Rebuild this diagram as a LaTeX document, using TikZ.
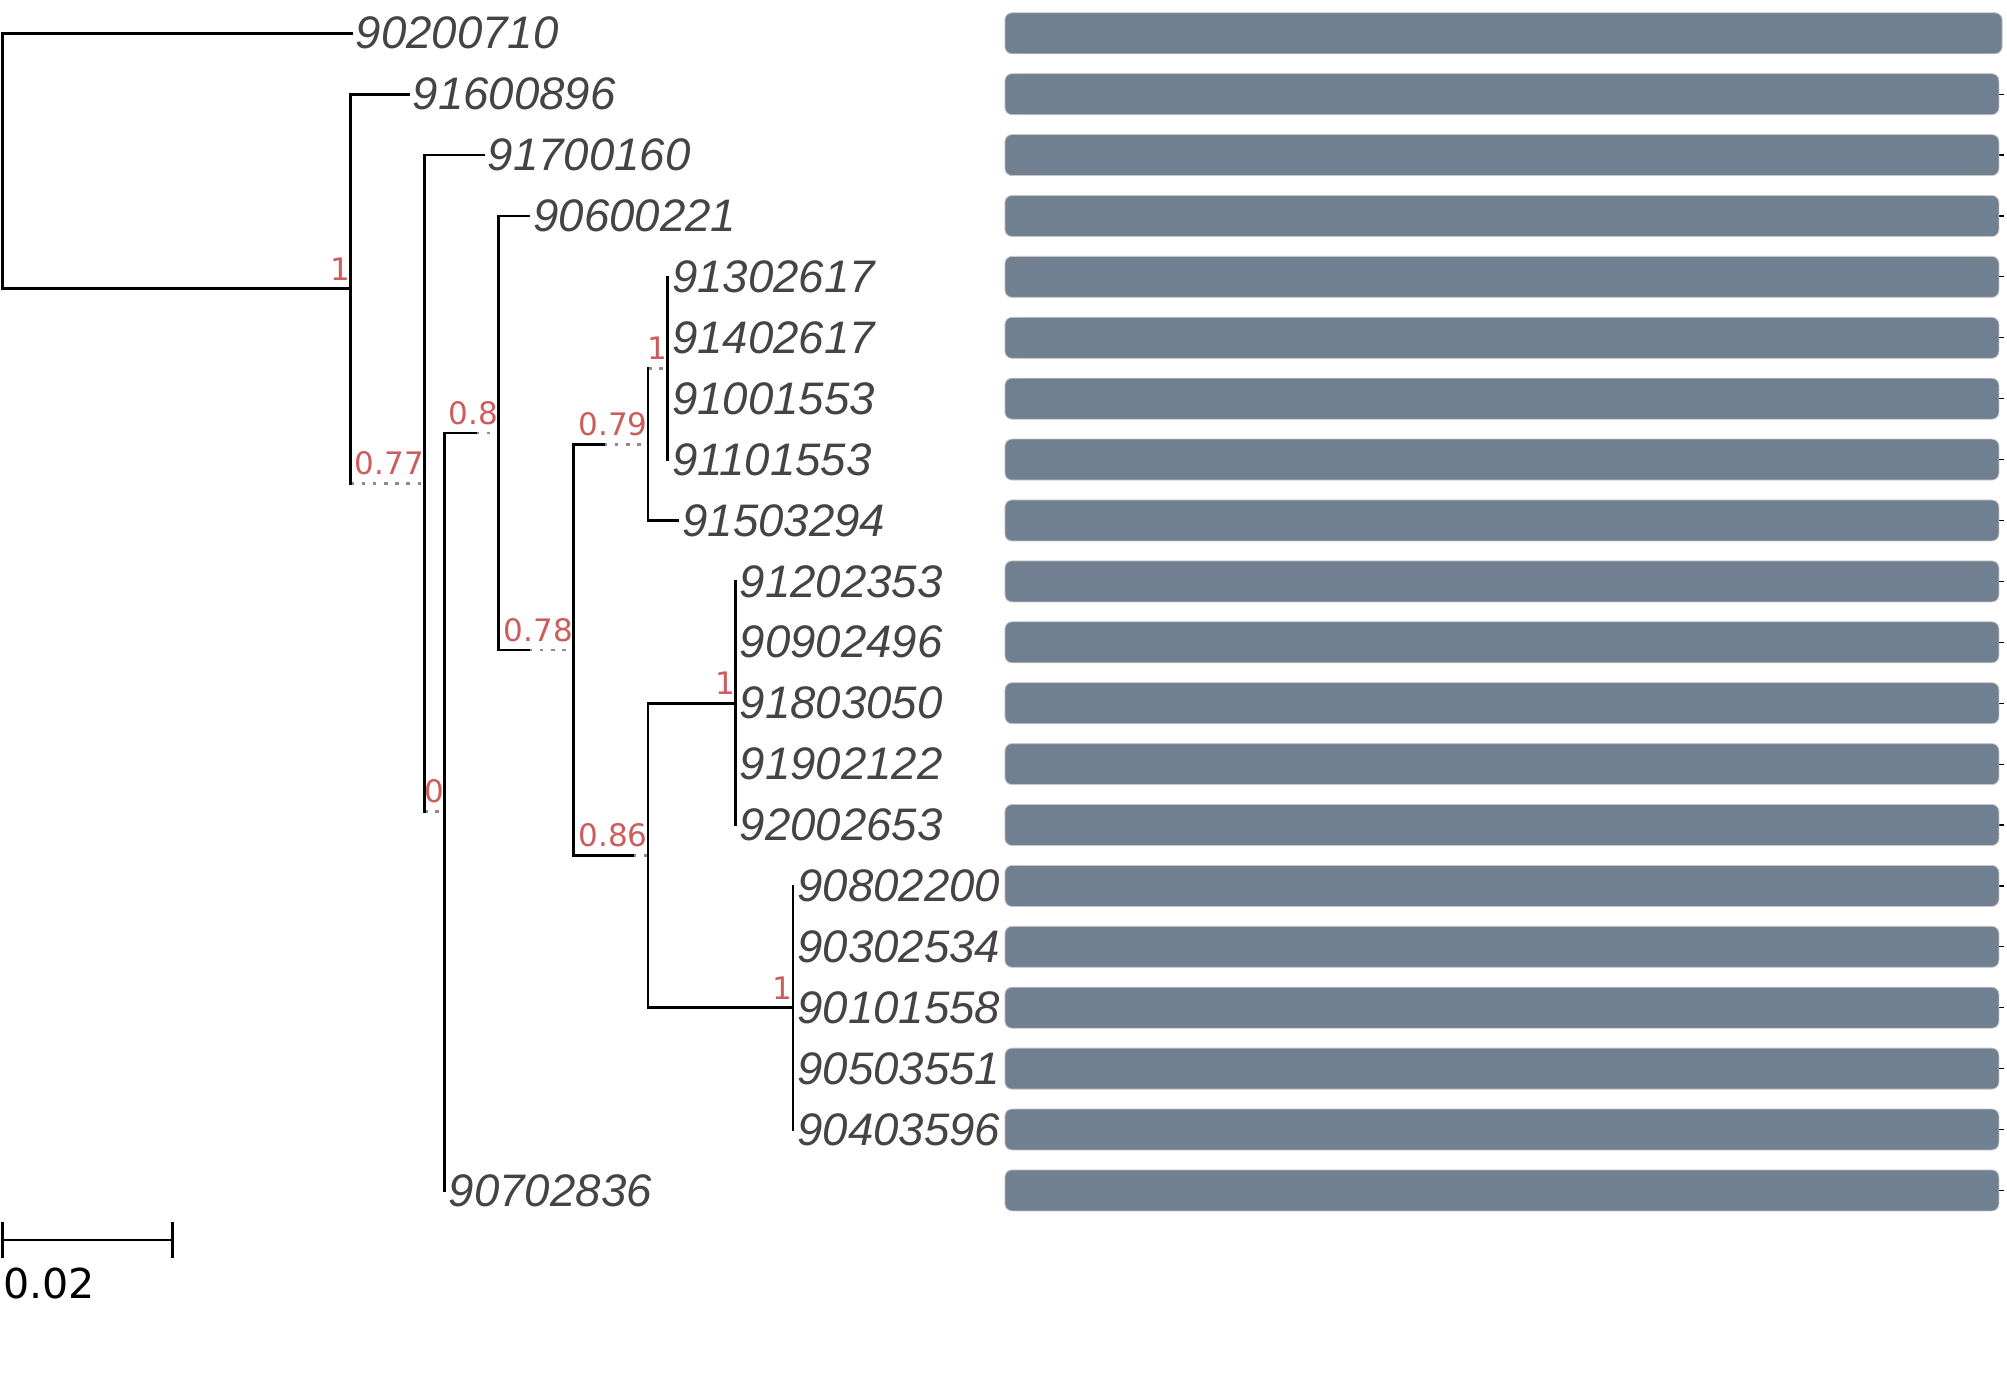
\documentclass[tikz,border=0pt]{standalone}
\usepackage{fontspec}
\newfontfamily\leaffont{Liberation Sans}
\newfontfamily\dvs{DejaVu Sans}
\definecolor{slate}{RGB}{112,128,144}
\definecolor{suppred}{RGB}{205,92,92}
\definecolor{leafgray}{RGB}{68,68,68}
\definecolor{dotgray}{RGB}{140,140,140}
\begin{document}
\begin{tikzpicture}[x=0.64pt,y=-0.64pt,
  branch/.style={line width=1.35pt, black, line cap=rect},
  dotbranch/.style={line width=1.35pt, dotgray, dash pattern=on 1.8pt off 3.8pt},
  leaf/.style={anchor=west, inner sep=0pt, xshift=2pt, text=leafgray, font=\leaffont\itshape\fontsize{22.8}{27}\selectfont},
  supp/.style={anchor=south east, inner sep=0pt, yshift=4pt, text=suppred, font=\dvs\fontsize{15.5}{18}\selectfont},
  bar/.style={fill=slate, draw=gray!45, line width=0.4pt, rounded corners=3.5pt, minimum width=497pt, minimum height=20.5pt, inner sep=0pt, anchor=west},
  tick/.style={line width=0.6pt, black}]
\useasboundingbox (0,0) rectangle (1568,1088);

% internal nodes
\coordinate (R) at (2.1,125.8);
\coordinate (A) at (273.8,225.6);
\coordinate (B) at (331.4,377.65);
\coordinate (C) at (347.3,634.13);
\coordinate (D) at (389.6,338.25);
\coordinate (E) at (447.8,507.75);
\coordinate (F) at (506.3,347.17);
\coordinate (G) at (521.6,287.69);
\coordinate (H) at (506.3,668.33);
\coordinate (I) at (574.5,549.38);
\coordinate (J) at (619.5,787.28);
% split points solid/dotted
\coordinate (Ds) at (371.5,338.25);
\coordinate (Es) at (413.0,507.75);
\coordinate (Fs) at (471.6,347.17);
\coordinate (Hs) at (494.0,668.33);

% leaf tips
\coordinate (t0) at (274.5,26.00);
\coordinate (t1) at (319.0,73.58);
\coordinate (t2) at (377.7,121.16);
\coordinate (t3) at (413.3,168.74);
\coordinate (t4) at (521.6,216.32);
\coordinate (t5) at (521.6,263.90);
\coordinate (t6) at (521.6,311.48);
\coordinate (t7) at (521.6,359.06);
\coordinate (t8) at (529.7,406.64);
\coordinate (t9) at (574.5,454.22);
\coordinate (t10) at (574.5,501.80);
\coordinate (t11) at (574.5,549.38);
\coordinate (t12) at (574.5,596.96);
\coordinate (t13) at (574.5,644.54);
\coordinate (t14) at (619.5,692.12);
\coordinate (t15) at (619.5,739.70);
\coordinate (t16) at (619.5,787.28);
\coordinate (t17) at (619.5,834.86);
\coordinate (t18) at (619.5,882.44);
\coordinate (t19) at (347.3,930.02);

% bars and right ticks
\foreach \i in {1,...,19}
  \draw[tick] (1558,{26+47.58*\i}) -- (1566,{26+47.58*\i});
\node[bar, minimum width=498.6pt] (b0) at (784.8,26) {};
\foreach \i in {1,...,19}
  \node[bar] (b\i) at (784.8,{26+47.58*\i}) {};

% dotted parts of branches
\draw[dotbranch] (A|-B) -- (B);
\draw[dotbranch] (B|-C) -- (C);
\draw[dotbranch] (Ds) -- (D);
\draw[dotbranch] (Es) -- (E);
\draw[dotbranch] (Fs) -- (F);
\draw[dotbranch] (F|-G) -- (G);
\draw[dotbranch] (Hs) -- (H);

% solid parts of branches
\draw[branch] (R|-A) -- (A);
\draw[branch] (C|-D) -- (Ds);
\draw[branch] (D|-E) -- (Es);
\draw[branch] (E|-F) -- (Fs);
\draw[branch] (E|-H) -- (Hs);
\draw[branch] (H|-I) -- (I);
\draw[branch] (H|-J) -- (J);

% leaf branches
\draw[branch] (R|-t0) -- (t0);
\draw[branch] (A|-t1) -- (t1);
\draw[branch] (B|-t2) -- (t2);
\draw[branch] (D|-t3) -- (t3);
\draw[branch] (F|-t8) -- (t8);

% verticals
\draw[branch] (R|-t0) -- (R|-A);
\draw[branch] (A|-t1) -- (A|-B);
\draw[branch] (B|-t2) -- (B|-C);
\draw[branch] (C|-D) -- (C|-t19);
\draw[branch] (D|-t3) -- (D|-E);
\draw[branch] (E|-F) -- (E|-H);
\draw[branch] (F|-G) -- (F|-t8);
\draw[branch] (G|-t4) -- (G|-t7);
\draw[branch] (H|-I) -- (H|-J);
\draw[branch] (I|-t9) -- (I|-t13);
\draw[branch] (J|-t14) -- (J|-t18);

% support values
\node[supp] (sA) at (A) {1};
\node[supp] (sB) at (B) {0.77};
\node[supp] (sC) at (C) {0};
\node[supp] (sD) at (D) {0.8};
\node[supp] (sE) at (E) {0.78};
\node[supp] (sF) at (F) {0.79};
\node[supp] (sG) at (G) {1};
\node[supp] (sH) at (H) {0.86};
\node[supp] (sI) at (I) {1};
\node[supp] (sJ) at (J) {1};

% leaf labels
\foreach \i/\lab in {0/90200710,1/91600896,2/91700160,3/90600221,4/91302617,5/91402617,6/91001553,7/91101553,8/91503294,9/91202353,10/90902496,11/91803050,12/91902122,13/92002653,14/90802200,15/90302534,16/90101558,17/90503551,18/90403596,19/90702836}
  \node[leaf] (l\i) at (t\i) {\lab};

% scale bar
\coordinate (s0) at (2.1,968.75);
\coordinate (s1) at (134.6,968.75);
\draw[line width=1.35pt] (s0) -- (s1);
\draw[line width=1.35pt] ([yshift=-9pt]s0) -- ([yshift=9pt]s0);
\draw[line width=1.35pt] ([yshift=-9pt]s1) -- ([yshift=9pt]s1);
\node[anchor=west, inner sep=0pt, font=\dvs\fontsize{20.6}{24}\selectfont] (slab) at (2.2,1002.4) {0.02};
\end{tikzpicture}
\end{document}
